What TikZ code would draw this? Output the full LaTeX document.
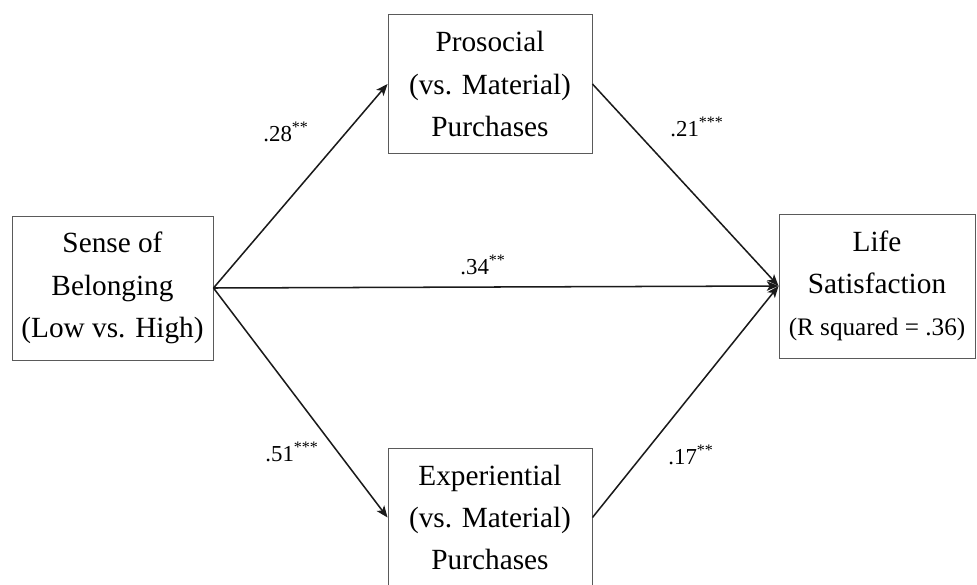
\documentclass[tikz,border=0pt]{standalone}
\usepackage{fontspec}
\setmainfont{Liberation Serif}
\usepackage{tikz}
\usetikzlibrary{positioning, arrows.meta}
\usepackage{xcolor}
\definecolor{BoxGray}{HTML}{5A5A5A}
\definecolor{ArrowBlack}{HTML}{1A1A1A}

\begin{document}
\begin{tikzpicture}[
            x=0.03cm, y=-0.03cm,
            box/.style={rectangle, draw=BoxGray, line width=0.8pt, fill=white, inner sep=0pt, align=center, font=\fontsize{25}{36}\selectfont},
            arrow/.style={-{Stealth[length=10pt, width=8pt, inset=2.5pt]}, line width=1.3pt, ArrowBlack},
            coef/.style={font=\fontsize{19.5}{22}\selectfont}
        ]
            \useasboundingbox (0,0) rectangle (977,584);
            \clip (0,0) rectangle (977,584);

            % Boxes
            \node[box, minimum width=6.03cm, minimum height=4.32cm] (belong) at (112.5,288) {Sense of\\Belonging\\(Low vs. High)};
            \node[box, minimum width=6.12cm, minimum height=4.17cm] (prosocial) at (490,84) {Prosocial\\(vs. Material)\\Purchases};
            \node[box, minimum width=6.12cm, minimum height=4.17cm] (experiential) at (490,517.5) {Experiential\\(vs. Material)\\Purchases};
            \node[box, minimum width=5.88cm, minimum height=4.32cm] (life) at (877,286) {Life\\Satisfaction\\{\fontsize{21.5}{30}\selectfont (R squared = .36)}};

            % Arrows
            \draw[arrow] (belong.east) -- (prosocial.west);
            \draw[arrow] (belong.east) -- (experiential.west);
            \draw[arrow] (belong.east) -- (life.west);
            \draw[arrow] (prosocial.east) -- (life.west);
            \draw[arrow] (experiential.east) -- (life.west);

            % Labels
            \node[coef] (c28) at (286,132) {.28\textsuperscript{**}};
            \node[coef] (c51) at (292,452) {.51\textsuperscript{***}};
            \node[coef] (c34) at (483,265) {.34\textsuperscript{**}};
            \node[coef] (c21) at (697,127) {.21\textsuperscript{***}};
            \node[coef] (c17) at (691,455) {.17\textsuperscript{**}};
        \end{tikzpicture}
\end{document}
